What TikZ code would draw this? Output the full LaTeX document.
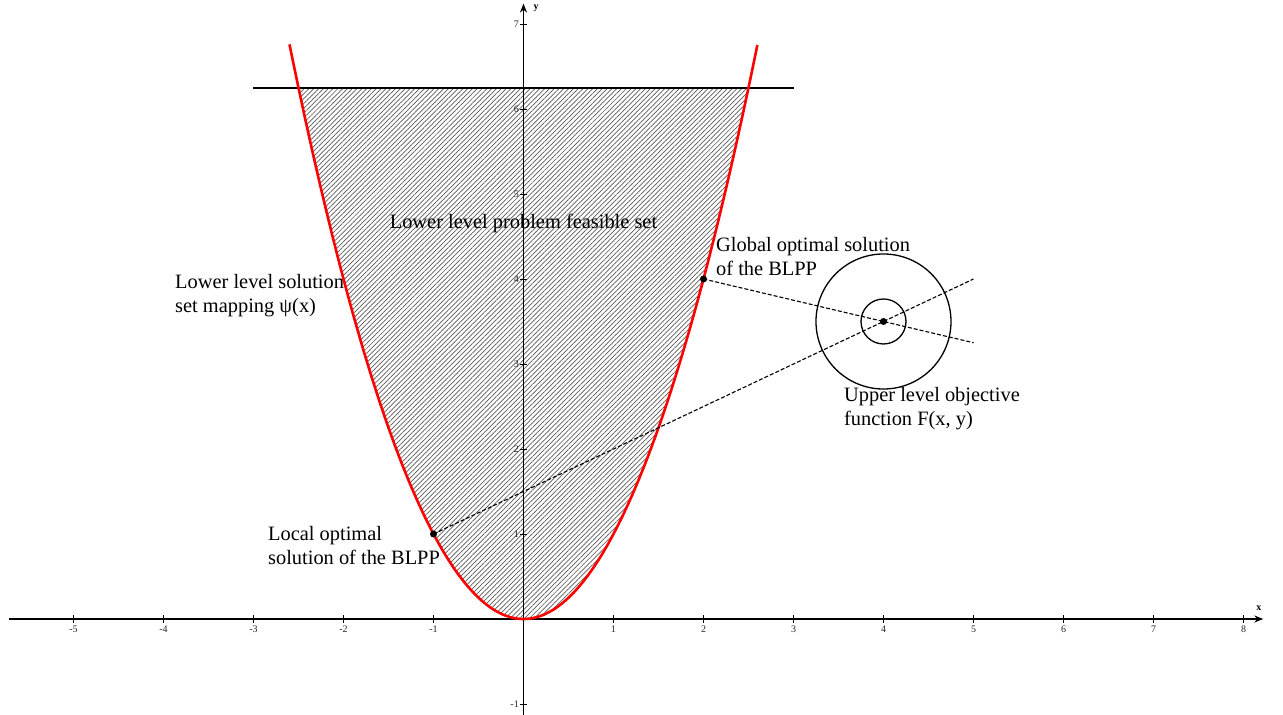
\documentclass[tikz,border=0pt]{standalone}
\usepackage{fontspec}
\setmainfont{Liberation Serif}
\usetikzlibrary{patterns.meta,arrows.meta}
\begin{document}
\begin{tikzpicture}[x=90pt,y=85pt,
  lbl/.style={font=\fontsize{20.4}{24}\selectfont, align=left, inner sep=0pt},
  ticklbl/.style={font=\fontsize{10}{10}\selectfont, inner sep=0pt, text=black!85},
  dot/.style={circle, fill=black, inner sep=0pt, minimum size=7pt},
  axisline/.style={line width=1.3pt, -{Stealth[length=9pt,width=7pt]}},
  dsh/.style={dash pattern=on 4pt off 2pt, line width=1.1pt},
  ring/.style={circle, draw, line width=1.3pt, inner sep=0pt}]
\useasboundingbox (-523.5pt,-96pt) rectangle (759.5pt,619pt);
% hatched feasible set
\fill[pattern={Lines[angle=45,distance=3.4pt,line width=0.7pt]}, pattern color=black!65]
  plot[domain=-2.5:2.5, samples=100] (\x,{\x*\x}) -- cycle;
% axes
\coordinate (xs) at (-5.72,0); \coordinate (xe) at (8.22,0);
\coordinate (ys) at (0,-1.13); \coordinate (ye) at (0,7.24);
\draw[axisline] (xs) -- (xe);
\draw[axisline] (ys) -- (ye);
\foreach \i in {-5,-4,-3,-2,-1,1,2,3,4,5,6,7,8} {
  \draw[line width=0.8pt] (\i,0) ++(0,-4pt) -- ++(0,8pt);
  \node[ticklbl] (tx\i) at ([yshift=-10pt]\i,0) {\i};
}
\foreach \j in {-1,1,2,3,4,5,6,7} {
  \draw[line width=0.8pt] (0,\j) ++(-3.5pt,0) -- ++(7pt,0);
  \node[ticklbl, anchor=east] (ty\j) at ([xshift=-4.5pt]0,\j) {\j};
}
\node[font=\fontsize{10}{10}\selectfont\bfseries, inner sep=0pt] (xlab) at (8.17,0.13) {x};
\node[font=\fontsize{10}{10}\selectfont\bfseries, inner sep=0pt] (ylab) at (0.14,7.18) {y};
% upper bound line
\coordinate (hl) at (-3,6.25); \coordinate (hr) at (3,6.25);
\draw[line width=1.8pt] (hl) -- (hr);
% parabola
\draw[red, line width=2.6pt] plot[domain=-2.6:2.6, samples=120] (\x,{\x*\x});
% points
\node[dot] (glob) at (2,4) {};
\node[dot] (loc) at (-1,1) {};
\node[dot] (ctr) at (4,3.5) {};
\coordinate (e1) at (5,3.25);
\coordinate (e2) at (5,4);
\draw[dsh] (glob.center) -- (e1);
\draw[dsh] (loc.center) -- (e2);
\node[ring, minimum size=135pt] (outer) at (ctr) {};
\node[ring, minimum size=45pt] (inner) at (ctr) {};
% labels
\node[lbl] (feas) at (0.0,4.65) {Lower level problem feasible set};
\node[lbl, anchor=west] (globl) at (2.139,4.27) {Global optimal solution\\of the BLPP};
\node[lbl, anchor=west] (psil) at (-3.872,3.81) {Lower level solution\\set mapping ψ(x)};
\node[lbl, anchor=west] (upl) at (3.561,2.47) {Upper level objective\\function F(x, y)};
\node[lbl, anchor=west] (locl) at (-2.839,0.86) {Local optimal\\solution of the BLPP};
\end{tikzpicture}
\end{document}
